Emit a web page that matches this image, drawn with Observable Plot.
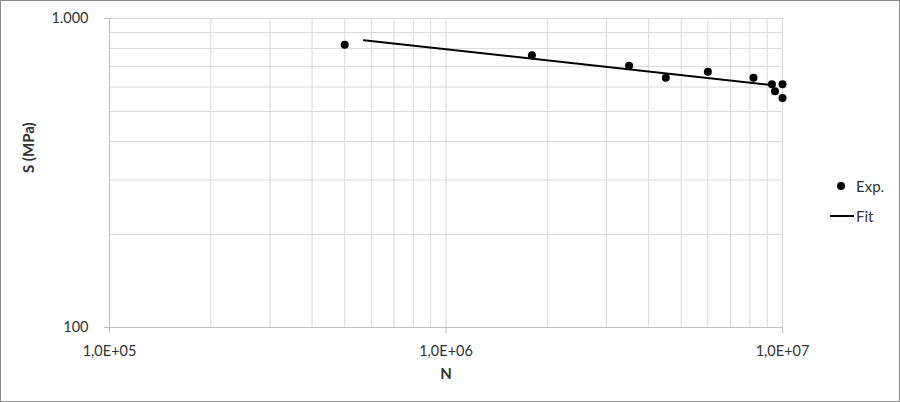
<!DOCTYPE html>
<html>
<head>
<meta charset="utf-8">
<script src="https://cdn.jsdelivr.net/npm/d3@7"></script>
<script src="https://cdn.jsdelivr.net/npm/@observablehq/plot@0.6"></script>
<style>
  body { margin: 0; background: #fff; }
  #wrap { position: relative; width: 900px; height: 402px; font-family: Lato, "Noto Sans", sans-serif; }
  #frame { position: absolute; left: 0; top: 0; width: 900px; height: 402px; box-sizing: border-box; border: 1px solid #8c8c8c; pointer-events: none; }
  .leg { position: absolute; font-size: 15px; color: #333; line-height: 16px; }
  .legdot { position: absolute; width: 8px; height: 8px; border-radius: 50%; background: #000; }
  .legline { position: absolute; height: 2px; background: #000; }
</style>
</head>
<body>
<div id="wrap"></div>
<script>
// Experimental data: cycles N and stress S (MPa)
const expN = [5.0e5, 1.8e6, 3.5e6, 4.5e6, 6.0e6, 8.2e6, 9.3e6, 1.0e7, 9.5e6, 1.0e7];
const expS = [822, 761, 703, 643, 672, 643, 613, 613, 582, 553];
// Fit line endpoints
const fitN = [5.7e5, 9.3e6];
const fitS = [851, 609];
// Axes
const xTicks = [1e5, 1e6, 1e7];
const xTickLabels = ["1,0E+05", "1,0E+06", "1,0E+07"];
const yTicks = [100, 1000];
const yTickLabels = ["100", "1.000"];
const xGrid = [2e5, 3e5, 4e5, 5e5, 6e5, 7e5, 8e5, 9e5, 1e6, 2e6, 3e6, 4e6, 5e6, 6e6, 7e6, 8e6, 9e6, 1e7];
const yGrid = [200, 300, 400, 500, 600, 700, 800, 900, 1000];

const expData = expN.map((n, i) => ({N: n, S: expS[i]}));
const fitData = fitN.map((n, i) => ({N: n, S: fitS[i]}));

const font = "Lato, 'Noto Sans', sans-serif";
const chart = Plot.plot({
  width: 900,
  height: 402,
  marginLeft: 109,
  marginRight: 118,
  marginTop: 18,
  marginBottom: 75,
  style: {fontFamily: font, fontSize: "14px", color: "#333", background: "transparent", overflow: "visible"},
  x: {type: "log", domain: [1e5, 1e7]},
  y: {type: "log", domain: [100, 1000]},
  marks: [
    Plot.ruleX(xGrid, {x: d => d, stroke: "#d9d9d9", strokeWidth: 1, strokeOpacity: 1}),
    Plot.ruleY(yGrid, {y: d => d, stroke: "#d9d9d9", strokeWidth: 1, strokeOpacity: 1}),
    Plot.ruleY([100], {stroke: "#c0c0c0", strokeWidth: 1}),
    Plot.ruleX([1e5], {stroke: "#c0c0c0", strokeWidth: 1}),
    Plot.axisX({
      ticks: xTicks,
      tickFormat: d => xTickLabels[xTicks.indexOf(d)],
      tickSize: 6,
      tickPadding: 12,
      stroke: "#c0c0c0",
      fontSize: 14.5,
      fill: "#333",
      label: null
    }),
    Plot.axisY({
      ticks: yTicks,
      tickFormat: d => yTickLabels[yTicks.indexOf(d)],
      tickSize: 5,
      tickPadding: 16,
      stroke: "#c0c0c0",
      fontSize: 14.5,
      fill: "#333",
      label: null
    }),
    Plot.text(["N"], {frameAnchor: "bottom", dy: 51, fontWeight: "bold", fontSize: 15, fill: "#333"}),
    Plot.text(["S (MPa)"], {frameAnchor: "left", dx: -80, rotate: -90, fontWeight: "bold", fontSize: 15, fill: "#333"}),
    Plot.line(fitData, {x: "N", y: "S", stroke: "#000", strokeWidth: 2}),
    Plot.dot(expData, {x: "N", y: "S", r: 4, fill: "#000", stroke: "none"})
  ]
});

const wrap = document.getElementById("wrap");
wrap.appendChild(chart);

// Legend
const legendItems = ["Exp.", "Fit"];
const dot = document.createElement("div");
dot.className = "legdot"; dot.style.left = "837px"; dot.style.top = "182px";
wrap.appendChild(dot);
const l1 = document.createElement("div");
l1.className = "leg"; l1.style.left = "856px"; l1.style.top = "178px"; l1.textContent = legendItems[0];
wrap.appendChild(l1);
const ln = document.createElement("div");
ln.className = "legline"; ln.style.left = "830px"; ln.style.top = "215px"; ln.style.width = "24px";
wrap.appendChild(ln);
const l2 = document.createElement("div");
l2.className = "leg"; l2.style.left = "856px"; l2.style.top = "208px"; l2.textContent = legendItems[1];
wrap.appendChild(l2);

const frame = document.createElement("div");
frame.id = "frame";
wrap.appendChild(frame);
</script>
</body>
</html>
